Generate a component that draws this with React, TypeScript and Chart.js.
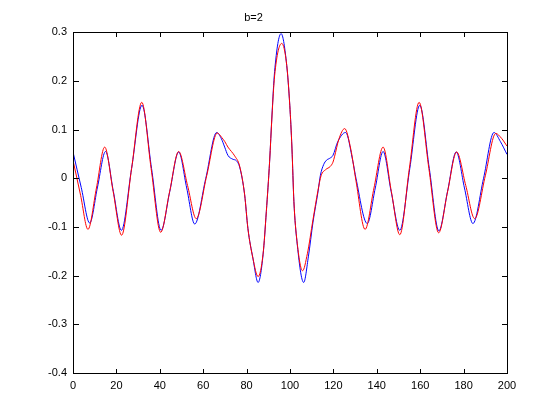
import React, { useEffect, useRef } from "react";
import { Chart, registerables } from "chart.js";

Chart.register(...registerables);

const TITLE = "b=2";
const X_TICKS = [0, 20, 40, 60, 80, 100, 120, 140, 160, 180, 200];
const Y_TICKS = [-0.4, -0.3, -0.2, -0.1, 0, 0.1, 0.2, 0.3];

const BLUE_X = [0, 3.8, 7.7, 11.3, 15.0, 18.6, 22.3, 27.0, 31.8, 36.2, 40.6, 44.6, 48.7, 52.4, 56.1, 61.2, 66.2, 68.4, 69.9, 71.4, 73.7, 75.3, 76.8, 79.1, 80.6, 82.9, 85.3, 87.6, 89.1, 90.6, 91.7, 92.9, 95.9, 98.3, 99.9, 100.9, 101.8, 103.2, 106.3, 108.5, 110.6, 112.9, 114.0, 115.5, 116.8, 118.3, 119.8, 122.0, 125.6, 129.0, 130.4, 135.6, 139.3, 142.9, 146.6, 150.6, 155.2, 159.8, 164.2, 168.6, 172.6, 176.6, 180.4, 184.3, 189.2, 194.0, 197.0, 200];
const BLUE_Y = [0.054, -0.019, -0.092, -0.018, 0.055, -0.027, -0.107, 0.02, 0.150, 0.02, -0.107, -0.027, 0.054, -0.02, -0.094, 0.0, 0.094, 0.081, 0.064, 0.047, 0.039, 0.036, 0.023, -0.034, -0.103, -0.164, -0.214, -0.157, -0.068, 0.034, 0.130, 0.219, 0.297, 0.240, 0.150, 0.062, -0.048, -0.130, -0.214, -0.16, -0.090, -0.028, 0.006, 0.028, 0.037, 0.041, 0.047, 0.075, 0.094, 0.034, 0.0, -0.093, -0.02, 0.055, -0.027, -0.107, 0.02, 0.150, 0.02, -0.108, -0.027, 0.054, -0.02, -0.093, 0.0, 0.094, 0.075, 0.049];

const RED_X = [0, 3.5, 6.9, 10.8, 14.6, 18.5, 22.4, 27.0, 31.7, 36.0, 40.4, 44.5, 48.7, 52.8, 56.8, 61.6, 66.5, 68.5, 70.0, 71.4, 73.0, 74.5, 76.8, 79.1, 80.6, 82.9, 85.3, 87.6, 89.1, 90.6, 91.7, 92.9, 96.2, 98.5, 99.9, 100.9, 101.8, 103.2, 105.8, 108.0, 110.6, 112.9, 114.3, 116.5, 118.5, 119.8, 120.5, 122.5, 125.2, 128.0, 130.4, 134.6, 138.7, 142.9, 146.7, 150.6, 155.0, 159.5, 164.0, 168.5, 172.6, 176.8, 181.0, 185.1, 190.0, 194.8, 197.5, 200];
const RED_Y = [0.037, -0.035, -0.105, -0.02, 0.064, -0.027, -0.117, 0.02, 0.156, 0.02, -0.111, -0.028, 0.055, -0.015, -0.083, 0.005, 0.093, 0.084, 0.075, 0.064, 0.055, 0.046, 0.025, -0.034, -0.103, -0.164, -0.202, -0.155, -0.068, 0.034, 0.128, 0.210, 0.277, 0.232, 0.150, 0.062, -0.048, -0.128, -0.190, -0.155, -0.085, -0.025, 0.005, 0.018, 0.024, 0.033, 0.044, 0.08, 0.102, 0.06, -0.005, -0.105, -0.02, 0.064, -0.027, -0.116, 0.02, 0.156, 0.02, -0.112, -0.028, 0.054, -0.015, -0.083, 0.005, 0.092, 0.082, 0.066];

const toPts = (xs: number[], ys: number[]) => xs.map((x, i) => ({ x, y: ys[i] }));

export default function App() {
  const ref = useRef<HTMLCanvasElement>(null);
  useEffect(() => {
    document.body.style.margin = "0";
    const font = { family: "'Liberation Sans', Arial, sans-serif", size: 11 };
    const boxPlugin = {
      id: "matlabBox",
      afterDraw: (chart: any) => {
        const ctx = chart.ctx as CanvasRenderingContext2D;
        const a = chart.chartArea;
        const sx = chart.scales.x;
        const sy = chart.scales.y;
        const L = Math.round(a.left);
        const R = Math.round(a.right);
        const T = Math.round(a.top);
        const B = Math.round(a.bottom);
        ctx.save();
        ctx.fillStyle = "#000000";
        ctx.fillRect(L, T, R - L + 1, 1);
        ctx.fillRect(L, B, R - L + 1, 1);
        ctx.fillRect(L, T, 1, B - T + 1);
        ctx.fillRect(R, T, 1, B - T + 1);
        X_TICKS.forEach((v) => {
          const px = Math.round(sx.getPixelForValue(v));
          ctx.fillRect(px, B - 4, 1, 4);
          ctx.fillRect(px, T + 1, 1, 4);
        });
        Y_TICKS.forEach((v) => {
          const py = Math.round(sy.getPixelForValue(v));
          ctx.fillRect(L + 1, py, 5, 1);
          ctx.fillRect(R - 5, py, 5, 1);
        });
        ctx.restore();
      },
    };
    const chart = new Chart(ref.current!, {
      type: "line",
      data: {
        datasets: [
          {
            label: "red",
            data: toPts(RED_X, RED_Y),
            borderColor: "#ff0000",
            borderWidth: 1,
            pointRadius: 0,
            cubicInterpolationMode: "monotone",
            fill: false,
            order: 0,
          },
          {
            label: "blue",
            data: toPts(BLUE_X, BLUE_Y),
            borderColor: "#0000ff",
            borderWidth: 1,
            pointRadius: 0,
            cubicInterpolationMode: "monotone",
            fill: false,
            order: 1,
          },
        ],
      },
      options: {
        responsive: false,
        animation: false,
        layout: { padding: { left: 0, right: 53, top: 0, bottom: 0 } },
        plugins: {
          legend: { display: false },
          tooltip: { enabled: false },
          title: {
            display: true,
            text: TITLE,
            color: "#000",
            font: { ...font, weight: "normal" },
            padding: { top: 11, bottom: 8 },
          },
        },
        scales: {
          x: {
            type: "linear",
            min: 0,
            max: 200,
            afterBuildTicks: (s: any) => {
              s.ticks = X_TICKS.map((v) => ({ value: v }));
            },
            afterFit: (s: any) => {
              s.height = 47;
            },
            ticks: { color: "#000", font, padding: 6, maxRotation: 0, autoSkip: false },
            grid: { display: false, drawTicks: false },
            border: { display: false },
          },
          y: {
            type: "linear",
            min: -0.4,
            max: 0.3,
            afterBuildTicks: (s: any) => {
              s.ticks = Y_TICKS.map((v) => ({ value: v }));
            },
            afterFit: (s: any) => {
              s.width = 73;
            },
            ticks: {
              color: "#000",
              font,
              padding: 6,
              autoSkip: false,
              callback: (v: any) => {
                const n = Math.round(Number(v) * 10) / 10;
                return n === 0 ? "0" : String(n);
              },
            },
            grid: { display: false, drawTicks: false },
            border: { display: false },
          },
        },
      },
      plugins: [boxPlugin],
    });
    return () => chart.destroy();
  }, []);
  return <canvas ref={ref} width={560} height={420} style={{ display: "block" }} />;
}
